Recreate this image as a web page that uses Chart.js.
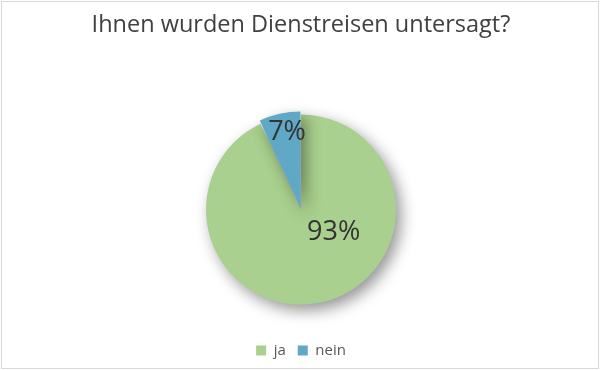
<!DOCTYPE html>
<html>
<head>
<meta charset="utf-8">
<script src="https://cdn.jsdelivr.net/npm/chart.js@4/dist/chart.umd.min.js"></script>
<style>
  html, body { margin: 0; padding: 0; background: #ffffff; }
  #wrap { width: 600px; height: 370px; position: relative; }
</style>
</head>
<body>
<div id="wrap"><canvas id="c" width="600" height="370"></canvas></div>
<script>
const titleText = "Ihnen wurden Dienstreisen untersagt?";
const categories = ["ja", "nein"];
const values = [93, 7];
const sliceColors = ["#a9d08e", "#5fa8c6"];
const sliceOffsets = [0, 8];
// label placement: angle (deg, clockwise from top) and fraction of radius
const labelPlacement = [
  { angle: 125, frac: 0.42 },
  { angle: 350, frac: 0.74 }
];

const FONT = "'Open Sans', 'DejaVu Sans', sans-serif";

const shadowPlugin = {
  id: 'shadowPlugin',
  beforeDatasetsDraw(chart) {
    const ctx = chart.ctx;
    ctx.save();
    ctx.shadowColor = 'rgba(0,0,0,0.42)';
    ctx.shadowBlur = 15;
    ctx.shadowOffsetX = 5;
    ctx.shadowOffsetY = 6;
  },
  afterDatasetsDraw(chart) {
    chart.ctx.restore();
  }
};

const labelPlugin = {
  id: 'labelPlugin',
  afterDatasetsDraw(chart) {
    const ctx = chart.ctx;
    const meta = chart.getDatasetMeta(0);
    const data = chart.data.datasets[0].data;
    const total = data.reduce((a, b) => a + b, 0);
    ctx.save();
    ctx.fillStyle = '#333333';
    ctx.font = "27px " + FONT;
    ctx.textAlign = 'center';
    ctx.textBaseline = 'middle';
    meta.data.forEach((arc, i) => {
      const p = arc.getProps(['x', 'y', 'startAngle', 'endAngle', 'outerRadius'], true);
      const pl = labelPlacement[i];
      const a = pl.angle * Math.PI / 180 - Math.PI / 2;
      const off = sliceOffsets[i];
      const mid = (p.startAngle + p.endAngle) / 2;
      const cx = p.x + Math.cos(mid) * off;
      const cy = p.y + Math.sin(mid) * off;
      const r = p.outerRadius * pl.frac;
      const x = cx + Math.cos(a) * r;
      const y = cy + Math.sin(a) * r;
      ctx.fillText(Math.round(data[i] / total * 100) + '%', x, y);
    });
    ctx.restore();
  }
};

const borderPlugin = {
  id: 'borderPlugin',
  afterDraw(chart) {
    const ctx = chart.ctx;
    ctx.save();
    ctx.strokeStyle = '#d9d9d9';
    ctx.lineWidth = 1;
    ctx.strokeRect(1.5, 1.5, chart.width - 3, chart.height - 3);
    ctx.restore();
  }
};

new Chart(document.getElementById('c'), {
  type: 'pie',
  data: {
    labels: categories,
    datasets: [{
      data: values,
      backgroundColor: sliceColors,
      borderColor: '#ffffff',
      borderWidth: 0,
      offset: sliceOffsets
    }]
  },
  options: {
    responsive: false,
    animation: false,
    radius: 95,
    layout: { padding: { left: 2, right: 0, top: 0, bottom: 2 } },
    plugins: {
      title: {
        display: true,
        text: titleText,
        color: '#404040',
        font: { family: FONT, size: 23.5, weight: 'normal' },
        padding: { top: 11, bottom: 49 }
      },
      legend: {
        position: 'bottom',
        labels: {
          color: '#595959',
          font: { family: FONT, size: 15 },
          boxWidth: 10,
          boxHeight: 10,
          padding: 12
        }
      },
      tooltip: { enabled: false }
    }
  },
  plugins: [shadowPlugin, labelPlugin, borderPlugin]
});
</script>
</body>
</html>
